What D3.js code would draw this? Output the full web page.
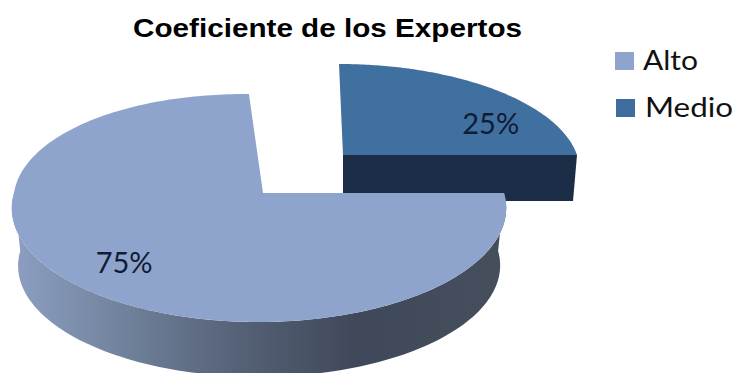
<!DOCTYPE html>
<html>
<head>
<meta charset="utf-8">
<script src="https://cdn.jsdelivr.net/npm/d3@7/dist/d3.min.js"></script>
<style>
html,body{margin:0;padding:0;background:#fff}
svg{display:block}
</style>
</head>
<body>
<svg id="chart" width="736" height="373"></svg>
<script>
// Pie values and labels
const categories = ["Alto", "Medio"];
const values = [75, 25];
const chartTitle = "Coeficiente de los Expertos";

const topColors = { Alto: "#8fa4cc", Medio: "#40709f" };
const legendColors = { Alto: "#8fa4cc", Medio: "#3f6c9f" };
const legendWidths = { Alto: 55, Medio: 88 };

// Perspective setup of each wedge: apex, radii, tilt and extrusion
const wedges = {
  Alto:  { cx: 263, cy: 193, rx: 245, ry: 112, k: 0.1316, j: 0.016, shear: 0.065,
           drop: 58, dropScale: 0.975, labelR: 0.73, labelDx: -2, labelDy: 6 },
  Medio: { cx: 343, cy: 155, rx: 234, ry: 103, k: 0.1316, j: 0, shear: 0.0193,
           drop: 46, dropScale: 0.983, labelR: 0.9, labelDx: 13, labelDy: 28 }
};

// Maps a polar point on the unit disc to the page, with optional extrusion.
// Only the far half of the disc leans, so the near half stays upright.
function project(w, angle, r, lower) {
  const u = r * Math.sin(angle), v = -r * Math.cos(angle);
  const d = 1 - w.k * v + w.j * u;
  const s = lower ? w.dropScale : 1;
  return [
    w.cx + s * w.rx * (u + w.shear * Math.min(v, 0)) / d,
    w.cy + s * w.ry * v / d + (lower ? w.drop : 0)
  ];
}

const svg = d3.select("#chart");
const line = d3.line();
const arcs = d3.pie().sort(null).startAngle(Math.PI / 2).endAngle(2.5 * Math.PI)(values);
const byName = {};
arcs.forEach((a, i) => { byName[categories[i]] = a; });

const samples = (a0, a1, n = 120) => d3.range(n + 1).map(i => a0 + (a1 - a0) * i / n);

// Shading along the outer wall of the large wedge
const defs = svg.append("defs");
const grad = defs.append("linearGradient").attr("id", "wall")
  .attr("gradientUnits", "userSpaceOnUse").attr("x1", 14).attr("x2", 504).attr("y1", 0).attr("y2", 0);
[[0, "#8c9fc2"], [0.2, "#73859f"], [0.45, "#566278"], [0.7, "#3f4859"], [1, "#454f5c"]]
  .forEach(([o, c]) => grad.append("stop").attr("offset", o).attr("stop-color", c));

// Medio: cut face first, then its top
{
  const w = wedges.Medio, a = byName.Medio;
  svg.append("path").attr("fill", "#1b2d47").attr("d", line([
    project(w, a.endAngle, 0, false), project(w, a.endAngle, 1, false),
    project(w, a.endAngle, 1, true), project(w, a.endAngle, 0, true)
  ]) + "Z");
  const rim = samples(a.startAngle, a.endAngle).map(t => project(w, t, 1, false));
  svg.append("path").attr("fill", topColors.Medio)
    .attr("d", line([project(w, a.startAngle, 0, false), ...rim]) + "Z");
}

// Alto: curved wall, then its top
{
  const w = wedges.Alto, a = byName.Alto;
  const sweep = samples(a.startAngle, 1.5 * Math.PI);
  const upper = sweep.map(t => project(w, t, 1, false));
  const lower = sweep.map(t => project(w, t, 1, true)).reverse();
  svg.append("path").attr("fill", "url(#wall)").attr("d", line([...upper, ...lower]) + "Z");
  const rim = samples(a.startAngle, a.endAngle, 240).map(t => project(w, t, 1, false));
  svg.append("path").attr("fill", topColors.Alto)
    .attr("d", line([project(w, a.startAngle, 0, false), ...rim]) + "Z");
}

// Percentage labels
categories.forEach((name, i) => {
  const w = wedges[name], a = byName[name];
  const mid = (a.startAngle + a.endAngle) / 2;
  const [x, y] = project(w, mid, w.labelR, false);
  svg.append("text").attr("x", x + w.labelDx).attr("y", y + w.labelDy)
    .attr("text-anchor", "middle").attr("dominant-baseline", "central")
    .attr("font-family", "Lato, 'Open Sans', sans-serif").attr("font-size", 29)
    .attr("fill", "#101b35").text(values[i] + "%");
});

// Title
svg.append("text").attr("x", 133).attr("y", 37)
  .attr("font-family", "'Liberation Sans', Arial, sans-serif").attr("font-weight", "bold")
  .attr("font-size", 26).attr("textLength", 389).attr("lengthAdjust", "spacingAndGlyphs")
  .attr("fill", "#000").text(chartTitle);

// Legend
const legendY = d3.scalePoint().domain(categories).range([61, 108]);
const legend = svg.selectAll("g.legend").data(categories).join("g")
  .attr("class", "legend").attr("transform", d => `translate(0,${legendY(d)})`);
legend.append("rect").attr("x", (d, i) => 615 + i).attr("y", -9).attr("width", 19).attr("height", 18)
  .attr("fill", d => legendColors[d]);
legend.append("text").attr("x", (d, i) => 643 + i * 2).attr("y", 9)
  .attr("font-family", "Lato, 'Open Sans', sans-serif").attr("font-size", 26)
  .attr("textLength", d => legendWidths[d]).attr("lengthAdjust", "spacingAndGlyphs")
  .attr("fill", "#111").text(d => d);
</script>
</body>
</html>
